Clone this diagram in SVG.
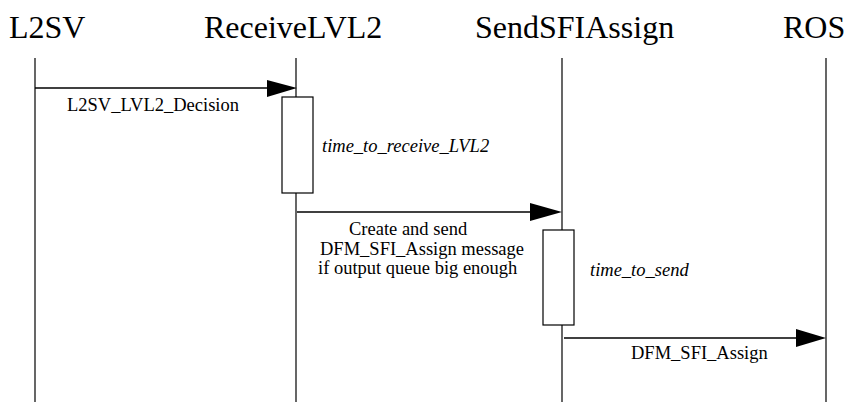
<svg xmlns="http://www.w3.org/2000/svg" width="856" height="402" viewBox="0 0 856 402" font-family="'Liberation Serif', 'Times New Roman', serif">
<defs>
<style>
.title{font-family:"Liberation Serif","Times New Roman",serif;font-size:32px;fill:#000}
.lbl{font-family:"Liberation Serif","Times New Roman",serif;font-size:18.5px;fill:#000}
.it{font-family:"Liberation Serif","Times New Roman",serif;font-size:18.5px;font-style:italic;fill:#000}
.life{stroke:#000;stroke-width:1.2;fill:none}
.act{stroke:#000;stroke-width:1.2;fill:#fff}
.msg{stroke:#000;stroke-width:1.5;fill:none}
.head{fill:#000;stroke:none}
</style>
</defs>
<rect width="856" height="402" fill="#fff"/>
<g id="L2SV">
<text class="title" x="9" y="38">L2SV</text>
<line class="life" x1="35" y1="58" x2="35" y2="402"/>
</g>
<g id="ReceiveLVL2">
<text class="title" x="204" y="38">ReceiveLVL2</text>
<line class="life" x1="296" y1="58" x2="296" y2="402"/>
<rect class="act" x="282" y="97" width="31" height="96"/>
<text class="it" x="322" y="152">time_to_receive_LVL2</text>
</g>
<g id="SendSFIAssign">
<text class="title" x="475" y="38">SendSFIAssign</text>
<line class="life" x1="562" y1="58" x2="562" y2="402"/>
<rect class="act" x="543" y="230" width="31" height="95"/>
<text class="it" x="590" y="276">time_to_send</text>
</g>
<g id="ROS">
<text class="title" x="783" y="38">ROS</text>
<line class="life" x1="826" y1="58" x2="826" y2="402"/>
</g>
<g id="connectors">
<line class="msg" x1="35" y1="88" x2="270" y2="88"/>
<polygon class="head" points="267,80 297,88 267,97"/>
<text class="lbl" x="67" y="111">L2SV_LVL2_Decision</text>
<line class="msg" x1="297" y1="212" x2="533" y2="212"/>
<polygon class="head" points="530,203 562,212 530,221"/>
<text class="lbl" x="349" y="235">Create and send</text>
<text class="lbl" x="320" y="255">DFM_SFI_Assign message</text>
<text class="lbl" x="318" y="274">if output queue big enough</text>
<line class="msg" x1="564" y1="338" x2="799" y2="338"/>
<polygon class="head" points="796,329 826,338 796,347"/>
<text class="lbl" x="631" y="359">DFM_SFI_Assign</text>
</g>
</svg>
